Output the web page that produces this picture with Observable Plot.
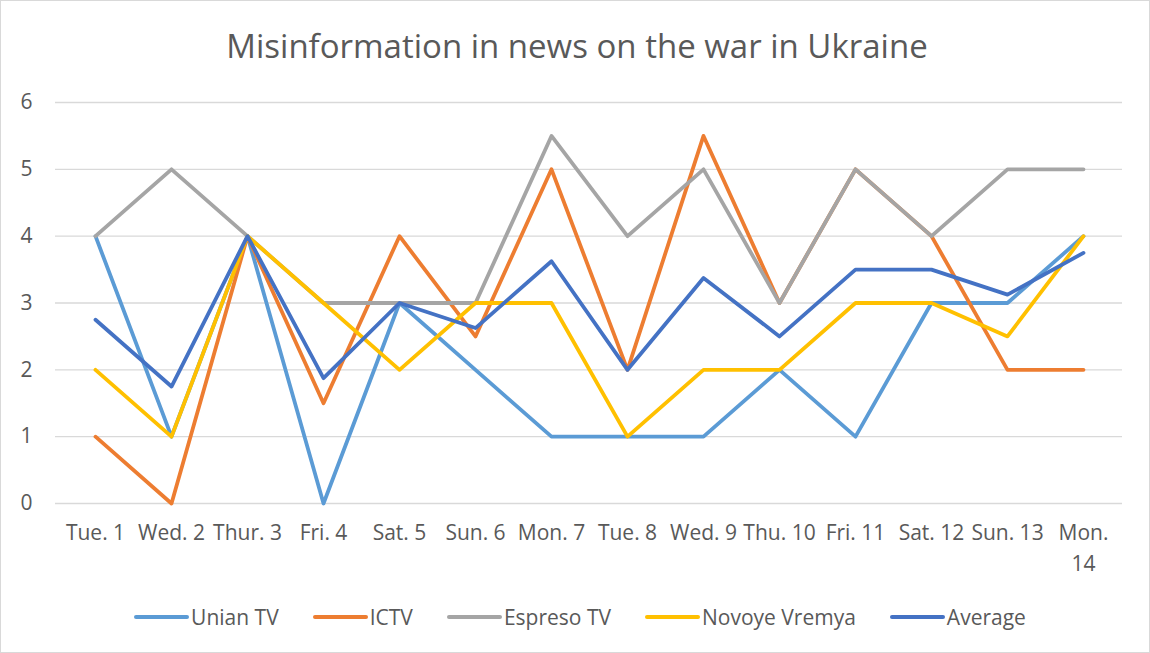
<!DOCTYPE html>
<html>
<head>
<meta charset="utf-8">
<script src="https://cdn.jsdelivr.net/npm/d3@7"></script>
<script src="https://cdn.jsdelivr.net/npm/@observablehq/plot@0.6"></script>
<style>
  html, body { margin: 0; padding: 0; background: #fff; }
  #chart { position: relative; width: 1150px; height: 653px; box-sizing: border-box; border: 1px solid #d9d9d9; font-family: "Open Sans", Lato, sans-serif; color: #595959; overflow: hidden; }
  #title { height: 70px; line-height: 90px; text-align: center; font-size: 33px; color: #595959; margin-left: 4px; }
  #legend { display: flex; justify-content: center; align-items: center; gap: 34px; height: 48px; font-size: 21px; color: #595959; margin-left: 10px; }
  .item { display: flex; align-items: center; gap: 2px; }
  .sw { width: 55px; height: 4px; border-radius: 2px; }
</style>
</head>
<body>
<div id="chart">
  <div id="title">Misinformation in news on the war in Ukraine</div>
  <div id="plot"></div>
  <div id="legend"></div>
</div>
<script>
const days = ["Tue. 1","Wed. 2","Thur. 3","Fri. 4","Sat. 5","Sun. 6","Mon. 7","Tue. 8","Wed. 9","Thu. 10","Fri. 11","Sat. 12","Sun. 13","Mon.\n14"];
const seriesNames = ["Unian TV","ICTV","Espreso TV","Novoye Vremya","Average"];
const seriesColors = ["#5B9BD5","#ED7D31","#A5A5A5","#FFC000","#4472C4"];
const unian   = [4, 1, 4, 0, 3, 2, 1, 1, 1, 2, 1, 3, 3, 4];
const ictv    = [1, 0, 4, 1.5, 4, 2.5, 5, 2, 5.5, 3, 5, 4, 2, 2];
const espreso = [4, 5, 4, 3, 3, 3, 5.5, 4, 5, 3, 5, 4, 5, 5];
const novoye  = [2, 1, 4, 3, 2, 3, 3, 1, 2, 2, 3, 3, 2.5, 4];
const average = [2.75, 1.75, 4, 1.875, 3, 2.625, 3.625, 2, 3.375, 2.5, 3.5, 3.5, 3.125, 3.75];
const yTicks = [0, 1, 2, 3, 4, 5, 6];

const allSeries = [unian, ictv, espreso, novoye, average];
const data = [];
allSeries.forEach((vals, si) => vals.forEach((v, i) => data.push({series: seriesNames[si], day: days[i], value: v})));

const chart = Plot.plot({
  width: 1148,
  height: 522,
  marginLeft: 54,
  marginRight: 27,
  marginTop: 31,
  marginBottom: 90,
  style: {fontFamily: "'Open Sans', Lato, sans-serif", fontSize: "21px", color: "#595959", background: "#fff"},
  x: {type: "point", domain: days, padding: 0.5, label: null},
  y: {domain: [0, 6], ticks: yTicks, label: null},
  color: {domain: seriesNames, range: seriesColors},
  marks: [
    Plot.gridY(yTicks, {stroke: "#d9d9d9", strokeOpacity: 1, strokeWidth: 1.3}),
    Plot.axisY(yTicks, {tickSize: 0, tickPadding: 23, fontSize: 21, fill: "#595959", tickFormat: d => d}),
    Plot.axisX({tickSize: 0, tickPadding: 15, fontSize: 21, fill: "#595959", lineAnchor: "top", lineHeight: 1.45}),
    Plot.line(data, {x: "day", y: "value", z: "series", stroke: "series", strokeWidth: 3.8, strokeLinejoin: "round", strokeLinecap: "round"})
  ]
});
document.getElementById("plot").appendChild(chart);

const legend = document.getElementById("legend");
seriesNames.forEach((n, i) => {
  const it = document.createElement("div");
  it.className = "item";
  const sw = document.createElement("div");
  sw.className = "sw";
  sw.style.background = seriesColors[i];
  const t = document.createElement("span");
  t.textContent = n;
  it.appendChild(sw); it.appendChild(t);
  legend.appendChild(it);
});
</script>
</body>
</html>
